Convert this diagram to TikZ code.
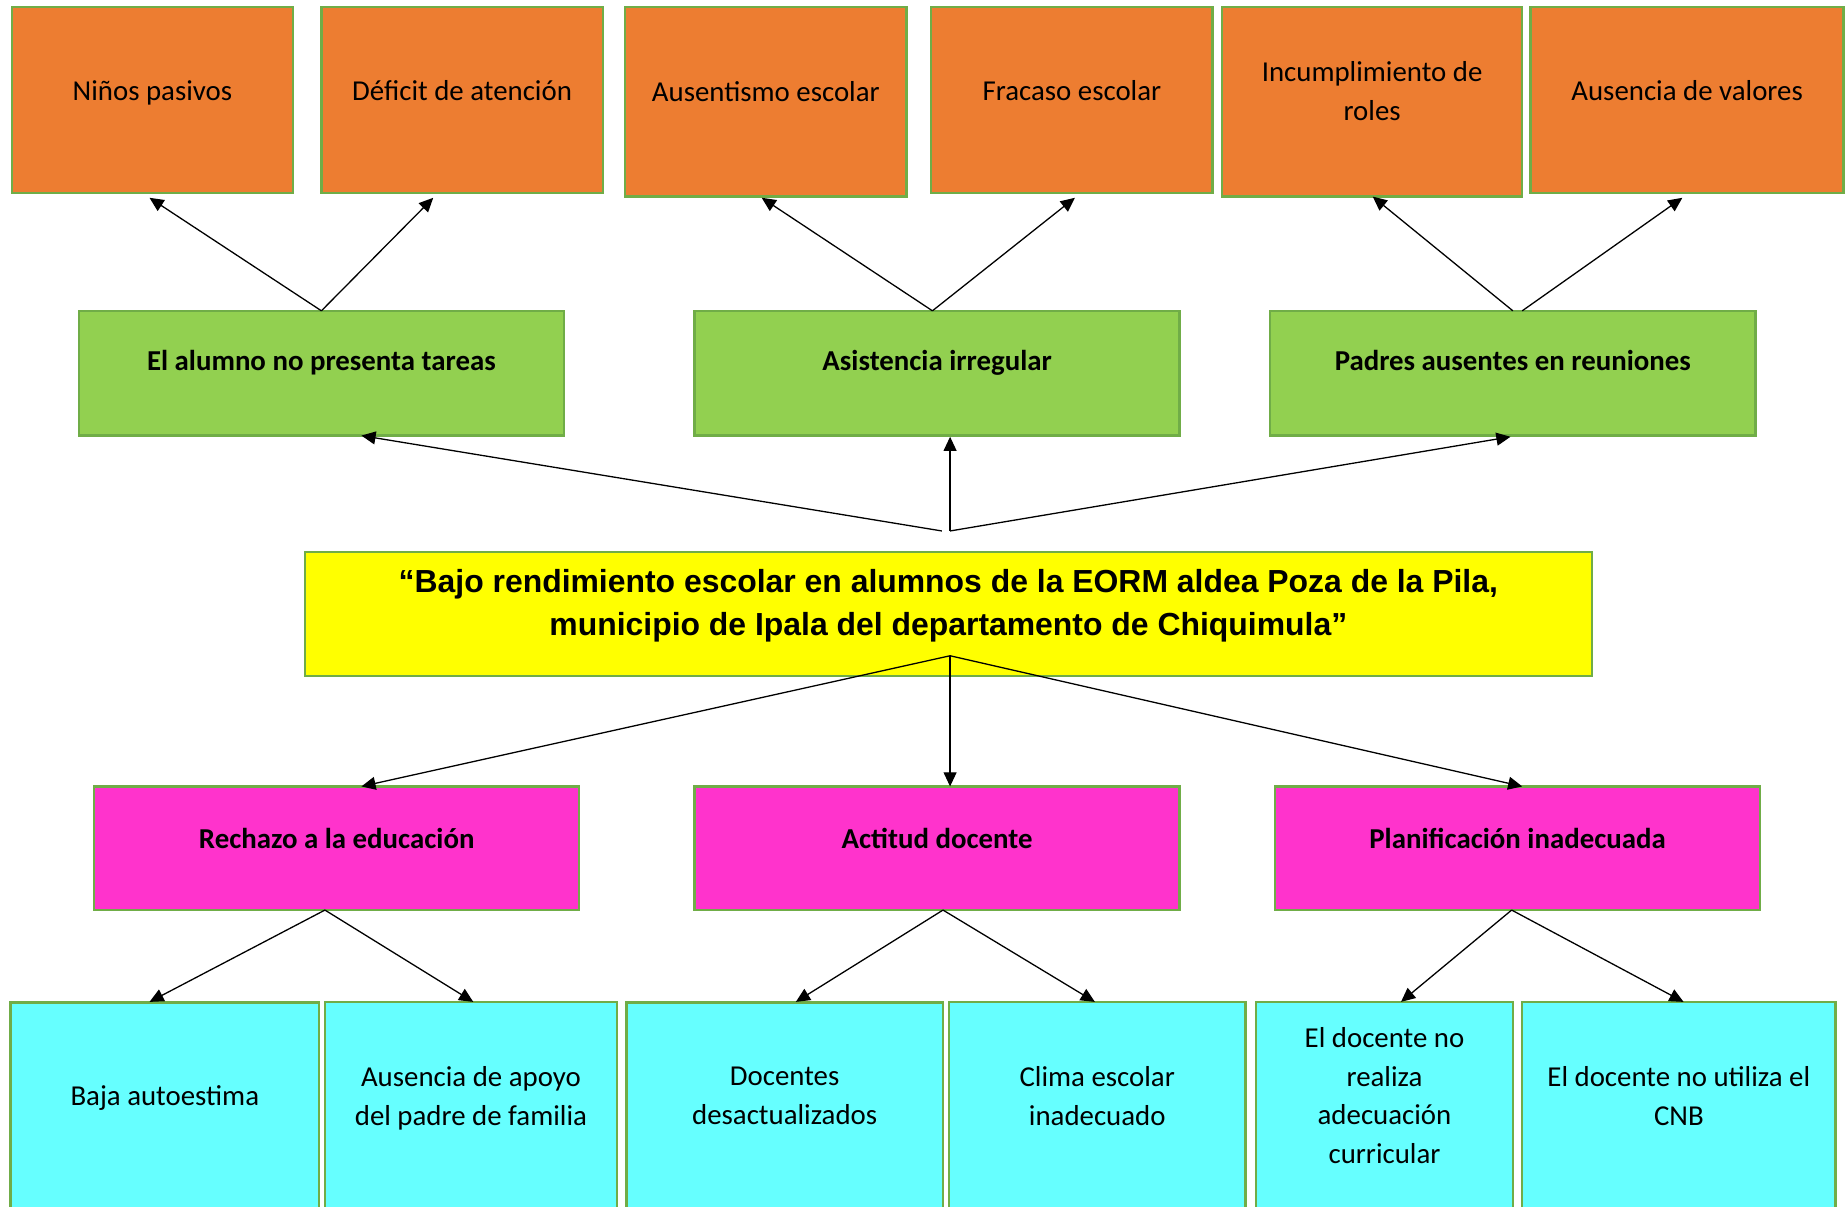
\documentclass[tikz,border=0pt]{standalone}
\usepackage{fontspec}
\setmainfont{Carlito}
\newfontfamily\titlefont{Liberation Sans}
\usetikzlibrary{arrows.meta}
\definecolor{borderg}{HTML}{70AD47}
\definecolor{orangefill}{HTML}{ED7D31}
\definecolor{greenfill}{HTML}{92D050}
\definecolor{yellowfill}{HTML}{FFFF00}
\definecolor{pinkfill}{HTML}{FF33CC}
\definecolor{cyanfill}{HTML}{66FFFF}
\tikzset{
  box/.style={draw=borderg, line width=2pt, inner sep=0pt, outer sep=0pt},
  obox/.style={box, fill=orangefill},
  gbox/.style={box, fill=greenfill, minimum width=412pt, minimum height=106pt},
  ybox/.style={box, fill=yellowfill},
  pbox/.style={box, fill=pinkfill, minimum width=412pt, minimum height=105pt},
  cbox/.style={box, fill=cyanfill, minimum height=189pt},
  txt/.style={font=\fontsize{24.5}{33}\selectfont, align=center, text=black, inner sep=0pt,
    execute at begin node=\strut, execute at end node=\strut},
  btxt/.style={txt, font=\fontsize{24.5}{33}\selectfont\bfseries},
  ttl/.style={font=\titlefont\bfseries\fontsize{27.1}{36}\selectfont, align=center, text=black, inner sep=0pt,
    execute at begin node=\strut, execute at end node=\strut},
  arr/.style={draw=black, line width=1.1pt, -{Triangle[length=12pt,width=11pt]}}
}
\begin{document}
\begin{tikzpicture}[x=1pt,y=-1pt]
\fill[white] (0,0) rectangle (1568,1025);
\useasboundingbox (0,0) rectangle (1568,1025);

% orange row
\node[obox, minimum width=239pt, minimum height=158pt] (O1) at (129.5,85) {};
\node[obox, minimum width=239pt, minimum height=158pt] (O2) at (392.5,85) {};
\node[obox, minimum width=239pt, minimum height=161pt] (O3) at (650.5,86.5) {};
\node[obox, minimum width=239pt, minimum height=158pt] (O4) at (910.5,85) {};
\node[obox, minimum width=255pt, minimum height=161pt] (O5) at (1165.5,86.5) {};
\node[obox, minimum width=266pt, minimum height=158pt] (O6) at (1433,85) {};
\node[txt] (t1) at (129.5,78.5) {Niños pasivos};
\node[txt] (t2) at (392.5,78.5) {Déficit de atención};
\node[txt] (t3) at (650.5,79.5) {Ausentismo escolar};
\node[txt] (t4) at (910.5,78.5) {Fracaso escolar};
\node[txt] (t5) at (1165.5,82) {Incumplimiento de\\roles};
\node[txt] (t6) at (1433,78.5) {Ausencia de valores};

% green row
\node[gbox] (G1) at (273,317) {};
\node[gbox] (G2) at (796,317) {};
\node[gbox] (G3) at (1285,317) {};
\node[btxt] (tg1) at (273,308.5) {El alumno no presenta tareas};
\node[btxt] (tg2) at (796,308.5) {Asistencia irregular};
\node[btxt] (tg3) at (1285,308.5) {Padres ausentes en reuniones};

% yellow title
\node[ybox, minimum width=1093pt, minimum height=105pt] (Y) at (805.5,521.5) {};
\node[ttl] (ty) at (805.5,517) {“Bajo rendimiento escolar en alumnos de la EORM aldea Poza de la Pila,\\municipio de Ipala del departamento de Chiquimula”};

% pink row
\node[pbox] (P1) at (286,720.5) {};
\node[pbox] (P2) at (796,720.5) {};
\node[pbox] (P3) at (1289,720.5) {};
\node[btxt] (tp1) at (286,714) {Rechazo a la educación};
\node[btxt] (tp2) at (796,714) {Actitud docente};
\node[btxt] (tp3) at (1289,714) {Planificación inadecuada};

% cyan row
\node[cbox, minimum width=262pt] (C1) at (140,946) {};
\node[cbox, minimum width=248pt] (C2) at (400,945.5) {};
\node[cbox, minimum width=269pt] (C3) at (666.5,946) {};
\node[cbox, minimum width=252pt] (C4) at (932,945.5) {};
\node[cbox, minimum width=218pt] (C5) at (1176,945.5) {};
\node[cbox, minimum width=266pt] (C6) at (1426,945.5) {};
\node[txt] (tc1) at (140,932.5) {Baja autoestima};
\node[txt] (tc2) at (400,936) {Ausencia de apoyo\\del padre de familia};
\node[txt] (tc3) at (666.5,936) {Docentes\\desactualizados};
\node[txt] (tc4) at (932,936) {Clima escolar\\inadecuado};
\node[txt] (tc5) at (1176,935.5) {El docente no\\realiza\\adecuación\\curricular};
\node[txt] (tc6) at (1426,936) {El docente no utiliza el\\CNB};

% connector points
\coordinate (g1s) at (273,264);
\coordinate (g2s) at (792,264);
\coordinate (g3s) at (1285,264);
\coordinate (g3t) at (1293,264);
\coordinate (o1e) at (127,168);
\coordinate (o2e) at (368,168);
\coordinate (o3e) at (647,168);
\coordinate (o4e) at (913,168);
\coordinate (o5e) at (1166,167);
\coordinate (o6e) at (1429,168);
\coordinate (ya) at (800,451);
\coordinate (yb) at (807,451);
\coordinate (g1e) at (307,370);
\coordinate (g2e) at (807,371);
\coordinate (g3e) at (1283,371);
\coordinate (yc) at (807,557);
\coordinate (p1e) at (307,668);
\coordinate (p2e) at (807,668);
\coordinate (p3e) at (1293,668);
\coordinate (p1s) at (276,773);
\coordinate (p2s) at (801,773);
\coordinate (p3s) at (1284,773);
\coordinate (c1e) at (127,851);
\coordinate (c2e) at (402,851);
\coordinate (c3e) at (676,851);
\coordinate (c4e) at (930,851);
\coordinate (c5e) at (1190,851);
\coordinate (c6e) at (1430,851);

% top arrows
\draw[arr] (g1s) -- (o1e);
\draw[arr] (g1s) -- (o2e);
\draw[arr] (g2s) -- (o3e);
\draw[arr] (g2s) -- (o4e);
\draw[arr] (g3s) -- (o5e);
\draw[arr] (g3t) -- (o6e);
% middle arrows
\draw[arr] (ya) -- (g1e);
\draw[arr] (yb) -- (g2e);
\draw[arr] (yb) -- (g3e);
% lower arrows
\draw[arr] (yc) -- (p1e);
\draw[arr] (yc) -- (p2e);
\draw[arr] (yc) -- (p3e);
% bottom arrows
\draw[arr] (p1s) -- (c1e);
\draw[arr] (p1s) -- (c2e);
\draw[arr] (p2s) -- (c3e);
\draw[arr] (p2s) -- (c4e);
\draw[arr] (p3s) -- (c5e);
\draw[arr] (p3s) -- (c6e);
\end{tikzpicture}
\end{document}
